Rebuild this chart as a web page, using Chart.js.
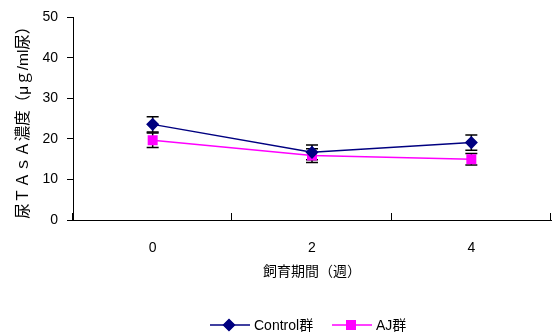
<!DOCTYPE html>
<html><head><meta charset="utf-8">
<script src="https://cdn.jsdelivr.net/npm/chart.js@4"></script>
<style>html,body{margin:0;padding:0;background:#fff}#wrap{width:553px;height:333px}</style>
</head><body><div id="wrap"><canvas id="c" width="553" height="333"></canvas></div>
<script>
const categories = ['0', '2', '4'];
const controlValues = [23.6, 16.7, 19.1];
const controlErrors = [1.9, 1.8, 1.9];
const ajValues = [19.7, 15.9, 15.0];
const ajErrors = [1.8, 1.7, 1.4];
const yTicks = [0, 10, 20, 30, 40, 50];
const seriesNames = ['Control群', 'AJ群'];
const xTitle = '飼育期間（週）';
const yTitle = '尿ＴＡｓＡ濃度（μｇ/ml尿）';

const FONT = '"Liberation Sans", "Noto Sans CJK JP", sans-serif';
const errs = [controlErrors, ajErrors];

const errorBars = {
  id: 'errorBars',
  beforeDatasetsDraw(chart) {
    const ctx = chart.ctx, y = chart.scales.y;
    ctx.save();
    ctx.strokeStyle = '#000'; ctx.lineWidth = 1.5;
    chart.data.datasets.forEach((ds, di) => {
      const meta = chart.getDatasetMeta(di);
      meta.data.forEach((pt, i) => {
        const v = ds.data[i], e = errs[di][i];
        const yt = y.getPixelForValue(v + e), yb = y.getPixelForValue(v - e);
        ctx.beginPath();
        ctx.moveTo(pt.x, yt); ctx.lineTo(pt.x, yb);
        ctx.moveTo(pt.x - 6, yt); ctx.lineTo(pt.x + 6, yt);
        ctx.moveTo(pt.x - 6, yb); ctx.lineTo(pt.x + 6, yb);
        ctx.stroke();
      });
    });
    ctx.restore();
  }
};

const axisDecor = {
  id: 'axisDecor',
  afterDraw(chart) {
    const ctx = chart.ctx, x = chart.scales.x, a = chart.chartArea;
    ctx.save();
    ctx.strokeStyle = '#000'; ctx.lineWidth = 1;
    const half = (x.getPixelForValue(1) - x.getPixelForValue(0)) / 2;
    const bounds = [];
    for (let i = 0; i < categories.length; i++) bounds.push(x.getPixelForValue(i) - half);
    bounds.push(x.getPixelForValue(categories.length - 1) + half);
    bounds.forEach(px => {
      const p = Math.round(px) - 0.5;
      ctx.beginPath(); ctx.moveTo(p, a.bottom); ctx.lineTo(p, a.bottom - 7); ctx.stroke();
    });
    // legend
    const ly = 325;
    ctx.font = '14px ' + FONT;
    ctx.textBaseline = 'middle';
    ctx.textAlign = 'left';
    const items = [
      {x0: 210, ds: chart.data.datasets[0]},
      {x0: 332, ds: chart.data.datasets[1]}
    ];
    items.forEach(it => {
      ctx.strokeStyle = it.ds.borderColor; ctx.lineWidth = 1.5;
      ctx.beginPath(); ctx.moveTo(it.x0, ly); ctx.lineTo(it.x0 + 40, ly); ctx.stroke();
      Chart.helpers.drawPoint(ctx, {pointStyle: it.ds.pointStyle, radius: it.ds.pointRadius, borderWidth: 1, rotation: 0}, it.x0 + 19, ly);
      ctx.fillStyle = it.ds.pointBackgroundColor;
      ctx.fill();
      ctx.fillStyle = '#000';
      ctx.fillText(it.ds.label, it.x0 + 44, ly + 1);
    });
    ctx.restore();
  }
};

new Chart(document.getElementById('c'), {
  type: 'line',
  data: {
    labels: categories,
    datasets: [
      {label: seriesNames[0], data: controlValues, borderColor: '#000080', backgroundColor: '#000080',
       pointBackgroundColor: '#000080', pointBorderColor: '#000080', pointStyle: 'rectRot', pointRadius: 5.5,
       borderWidth: 1.5, tension: 0},
      {label: seriesNames[1], data: ajValues, borderColor: '#FF00FF', backgroundColor: '#FF00FF',
       pointBackgroundColor: '#FF00FF', pointBorderColor: '#FF00FF', pointStyle: 'rect', pointRadius: 6,
       borderWidth: 1.5, tension: 0}
    ]
  },
  options: {
    responsive: false, animation: false,
    layout: {autoPadding: false, padding: {left: 0, right: 2, top: 15, bottom: 43}},
    plugins: {legend: {display: false}, tooltip: {enabled: false}},
    scales: {
      x: {
        type: 'category', offset: true,
        grid: {display: false},
        border: {display: true, color: '#000', width: 1},
        ticks: {color: '#000', font: {size: 14, family: FONT}, padding: 12, maxRotation: 0},
        title: {display: true, text: xTitle, color: '#000', font: {size: 14, family: FONT}, padding: {top: 0, bottom: 9}},
        afterFit(s) { s.height = 70; }
      },
      y: {
        min: 0, max: 50,
        afterBuildTicks(s) { s.ticks = yTicks.map(v => ({value: v})); },
        grid: {drawOnChartArea: false, drawTicks: true, tickLength: 6, color: '#000'},
        border: {display: true, color: '#000', width: 1},
        ticks: {color: '#000', font: {size: 14, family: FONT}, padding: 9},
        title: {display: true, text: yTitle, color: '#000', font: {size: 15.5, family: FONT}, padding: {top: 14, bottom: 0}},
        afterFit(s) { s.width = 73; }
      }
    }
  },
  plugins: [errorBars, axisDecor]
});
</script></body></html>
